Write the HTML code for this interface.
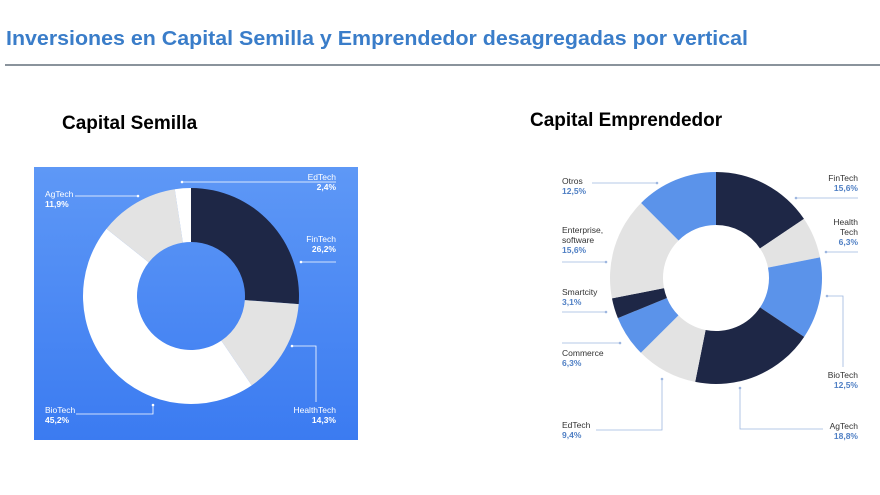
<!DOCTYPE html>
<html><head><meta charset="utf-8"><style>
html,body{margin:0;padding:0;background:#fff;}
svg{display:block;font-family:"Liberation Sans",sans-serif;}
</style></head><body>
<svg id="root" width="880" height="495" viewBox="0 0 880 495">
<defs>
<linearGradient id="bg" x1="0" y1="0" x2="0" y2="1">
<stop offset="0" stop-color="#5e98f6"/><stop offset="1" stop-color="#3b7bf1"/>
</linearGradient>
</defs>
<text x="6" y="45" font-size="20" font-weight="bold" fill="#3a7dc9" textLength="742" lengthAdjust="spacingAndGlyphs">Inversiones en Capital Semilla y Emprendedor desagregadas por vertical</text>
<rect x="5" y="64" width="875" height="2" fill="#8a939c"/>
<text x="62" y="129" font-size="19" font-weight="bold" fill="#000">Capital Semilla</text>
<text x="530" y="126" font-size="19" font-weight="bold" fill="#000">Capital Emprendedor</text>
<rect x="34" y="167" width="324" height="273" fill="url(#bg)"/>
<g id="left"></g>
<g id="right"></g>
<g id="labels"></g>
</svg>
<script>
const seedCats = ["FinTech","HealthTech","BioTech","AgTech","EdTech"];
const seedVals = [26.2,14.3,45.2,11.9,2.4];
const seedLabels = ["26,2%","14,3%","45,2%","11,9%","2,4%"];
const ventCats = ["FinTech","Health Tech","BioTech","AgTech","EdTech","Commerce","Smartcity","Enterprise, software","Otros"];
const ventVals = [15.6,6.3,12.5,18.8,9.4,6.3,3.1,15.6,12.5];
const ventLabels = ["15,6%","6,3%","12,5%","18,8%","9,4%","6,3%","3,1%","15,6%","12,5%"];

const NS="http://www.w3.org/2000/svg";
function mk(tag,attrs,parent){const e=document.createElementNS(NS,tag);for(const k in attrs)e.setAttribute(k,attrs[k]);parent.appendChild(e);return e;}
function arc(cx,cy,r0,r1,a0,a1){
  const p=(r,a)=>[cx+r*Math.sin(a),cy-r*Math.cos(a)];
  const lg=(a1-a0)>Math.PI?1:0;
  const [x0,y0]=p(r1,a0),[x1,y1]=p(r1,a1),[x2,y2]=p(r0,a1),[x3,y3]=p(r0,a0);
  return `M${x0},${y0}A${r1},${r1} 0 ${lg} 1 ${x1},${y1}L${x2},${y2}A${r0},${r0} 0 ${lg} 0 ${x3},${y3}Z`;
}
function donut(g,vals,colors,cx,cy,r0,r1,prefix,cats){
  const tot=vals.reduce((a,b)=>a+b,0);let a=0;
  vals.forEach((v,i)=>{const a1=a+v/tot*2*Math.PI;
    const p=mk('path',{d:arc(cx,cy,r0,r1,a,a1),fill:colors[i]},g);
    
    
    a=a1;});
}
const D="#1e2746",G="#e3e3e3",B="#5b93ea",W="#ffffff";
donut(document.getElementById('left'),seedVals,[D,G,W,G,W],191,296,54,108,'seed',seedCats);
donut(document.getElementById('right'),ventVals,[D,G,B,D,G,B,D,G,B],716,278,53,106,'venture',ventCats);

const L=document.getElementById('labels');
function label(lines,x,y,anchor,col,pcol,pct,name){
  const t=mk('text',{x:x,y:y,'font-size':8.5,fill:col,'text-anchor':anchor},L);
  
  
  lines.forEach((s,i)=>{mk('tspan',{x:x,dy:i?10:0},t).textContent=s;});
  const ts=mk('tspan',{x:x,dy:10,fill:pcol,'font-weight':'bold'},t);ts.textContent=pct;
}
function line(pts,col){const p=mk('polyline',{points:pts,fill:'none',stroke:col,'stroke-width':0.8},L);
  
  const q=pts.split(' ').pop().split(',');mk('circle',{cx:q[0],cy:q[1],r:1.3,fill:col},L);}
// seed labels
const wc="#fff";
label([seedCats[4]],336,180,'end',wc,wc,seedLabels[4],'label-seed-edtech');line("336,182 182,182",wc);
label([seedCats[3]],45,197,'start',wc,wc,seedLabels[3],'label-seed-agtech');line("75,196 138,196",wc);
label([seedCats[0]],336,242,'end',wc,wc,seedLabels[0],'label-seed-fintech');line("336,262 301,262",wc);
label([seedCats[1]],336,413,'end',wc,wc,seedLabels[1],'label-seed-healthtech');line("316,402 316,346 292,346",wc);
label([seedCats[2]],45,413,'start',wc,wc,seedLabels[2],'label-seed-biotech');line("76,414 153,414 153,405",wc);
// venture labels
const tc="#333",pc="#4f7fc4",lc="#9db6df";
label([ventCats[0]],858,181,'end',tc,pc,ventLabels[0],'label-venture-fintech');line("858,198 796,198",lc);
label(["Health","Tech"],858,225,'end',tc,pc,ventLabels[1],'label-venture-healthtech');line("858,252 826,252",lc);
label([ventCats[2]],858,378,'end',tc,pc,ventLabels[2],'label-venture-biotech');line("843,367 843,296 827,296",lc);
label([ventCats[3]],858,429,'end',tc,pc,ventLabels[3],'label-venture-agtech');line("823,429 740,429 740,388",lc);
label([ventCats[8]],562,184,'start',tc,pc,ventLabels[8],'label-venture-otros');line("592,183 657,183",lc);
label(["Enterprise,","software"],562,233,'start',tc,pc,ventLabels[7],'label-venture-enterprise');line("562,262 606,262",lc);
label([ventCats[6]],562,295,'start',tc,pc,ventLabels[6],'label-venture-smartcity');line("562,312 606,312",lc);
label([ventCats[5]],562,356,'start',tc,pc,ventLabels[5],'label-venture-commerce');line("562,343 620,343",lc);
label([ventCats[4]],562,428,'start',tc,pc,ventLabels[4],'label-venture-edtech');line("596,430 662,430 662,379",lc);
</script>
</body></html>
